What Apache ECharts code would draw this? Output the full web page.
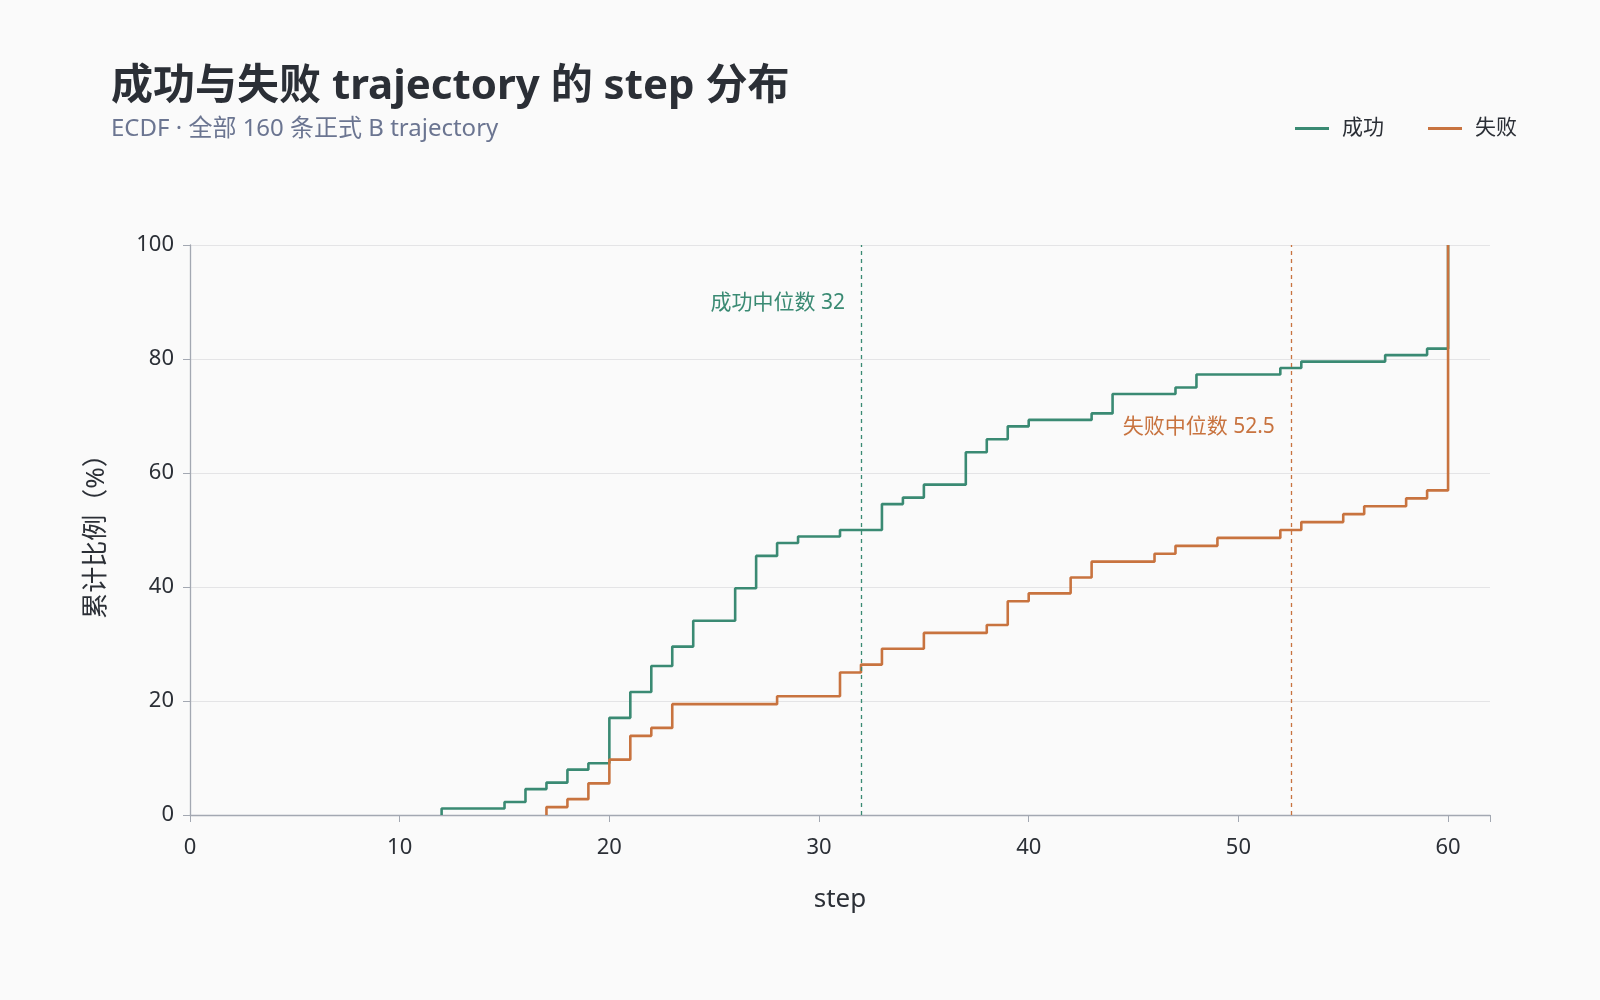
<!DOCTYPE html>
<html><head><meta charset="utf-8">
<script src="https://cdn.jsdelivr.net/npm/echarts@6/dist/echarts.min.js"></script>
<style>html,body{margin:0;padding:0;background:#fafafa;}#c{width:1600px;height:1000px;}</style>
</head><body><div id="c"></div>
<script>
const successSteps = [12,15,16,17,18,19,20,21,22,23,24,26,27,28,29,31,33,34,35,37,38,39,40,43,44,47,48,52,53,57,59,60];
const successCounts = [1,2,4,5,7,8,15,19,23,26,30,35,40,42,43,44,48,49,51,56,58,60,61,62,65,66,68,69,70,71,72,88];
const successTotal = 88;
const failSteps = [17,18,19,20,21,22,23,28,31,32,33,35,38,39,40,42,43,46,47,49,52,53,55,56,58,59,60];
const failCounts = [1,2,4,7,10,11,14,15,18,19,21,23,24,27,28,30,32,33,34,35,36,37,38,39,40,41,72];
const failTotal = 72;
const successMedian = 32;
const failMedian = 52.5;
const xTicks = [0,10,20,30,40,50,60];
const yTicks = [0,20,40,60,80,100];

const GREEN = '#3a8a73';
const ORANGE = '#c8733f';
const FONT = '"Noto Sans", "Noto Sans CJK SC", sans-serif';

function ecdf(steps, counts, total){
  const pts = [[steps[0], 0]];
  for (let i = 0; i < steps.length; i++) pts.push([steps[i], counts[i] / total * 100]);
  return pts;
}

function medianMarks(x, color, labelY, text){
  return {
    markLine: {
      symbol: 'none', silent: true,
      lineStyle: {color: color, type: [4, 4], width: 1.3},
      label: {show: false},
      data: [[{coord: [x, 0]}, {coord: [x, 100]}]]
    },
    markPoint: {
      symbol: 'circle', symbolSize: 0, silent: true,
      label: {show: true, position: 'left', distance: 16, color: color, fontSize: 21, fontFamily: FONT, formatter: text},
      data: [{coord: [x, labelY]}]
    }
  };
}

const chart = echarts.init(document.getElementById('c'), null, {renderer: 'canvas'});
const s1 = Object.assign({
  name: '成功', type: 'line', step: 'end', showSymbol: false, symbol: 'none',
  data: ecdf(successSteps, successCounts, successTotal),
  lineStyle: {color: GREEN, width: 2.6}, itemStyle: {color: GREEN}, z: 2
}, medianMarks(successMedian, GREEN, 89.8, '成功中位数 ' + successMedian));
const s2 = Object.assign({
  name: '失败', type: 'line', step: 'end', showSymbol: false, symbol: 'none',
  data: ecdf(failSteps, failCounts, failTotal),
  lineStyle: {color: ORANGE, width: 2.6}, itemStyle: {color: ORANGE}, z: 3
}, medianMarks(failMedian, ORANGE, 68.0, '失败中位数 ' + failMedian));

chart.setOption({
  backgroundColor: '#fafafa',
  animation: false,
  title: {
    text: '成功与失败 trajectory 的 step 分布',
    subtext: 'ECDF · 全部 160 条正式 B trajectory',
    left: 106, top: 61,
    textStyle: {fontFamily: FONT, fontSize: 42, fontWeight: 'bold', color: '#2b2f36'},
    subtextStyle: {fontFamily: FONT, fontSize: 24, color: '#6b7591'},
    itemGap: 9
  },
  legend: {
    right: 78, top: 113, itemWidth: 34, itemHeight: 3, itemGap: 44,
    icon: 'rect',
    textStyle: {fontFamily: FONT, fontSize: 21, color: '#2b2f36', padding: [0, 0, 0, 8]},
    data: ['成功', '失败']
  },
  grid: {left: 190, right: 110, top: 245, bottom: 185, containLabel: false},
  xAxis: {
    type: 'value', min: 0, max: 62, interval: 10,
    name: 'step', nameLocation: 'middle', nameGap: 72,
    nameTextStyle: {fontFamily: FONT, fontSize: 26, color: '#2b2f36'},
    axisLine: {lineStyle: {color: '#a3a8b2', width: 1.3}},
    axisTick: {show: true, length: 7, lineStyle: {color: '#a3a8b2'}},
    axisLabel: {fontFamily: FONT, fontSize: 22, color: '#2b2f36', margin: 22,
      formatter: v => xTicks.includes(v) ? String(v) : ''},
    splitLine: {show: false}
  },
  yAxis: {
    type: 'value', min: 0, max: 100, interval: 20,
    name: '累计比例（%）', nameLocation: 'middle', nameGap: 80, nameRotate: 90,
    nameTextStyle: {fontFamily: FONT, fontSize: 26, color: '#2b2f36'},
    axisLine: {show: true, lineStyle: {color: '#a3a8b2', width: 1.3}},
    axisTick: {show: true, length: 7, lineStyle: {color: '#a3a8b2'}},
    axisLabel: {fontFamily: FONT, fontSize: 22, color: '#2b2f36', margin: 16,
      formatter: v => yTicks.includes(v) ? String(v) : ''},
    splitLine: {show: true, lineStyle: {color: '#e4e4e6', width: 1}}
  },
  series: [s1, s2]
});
</script></body></html>
